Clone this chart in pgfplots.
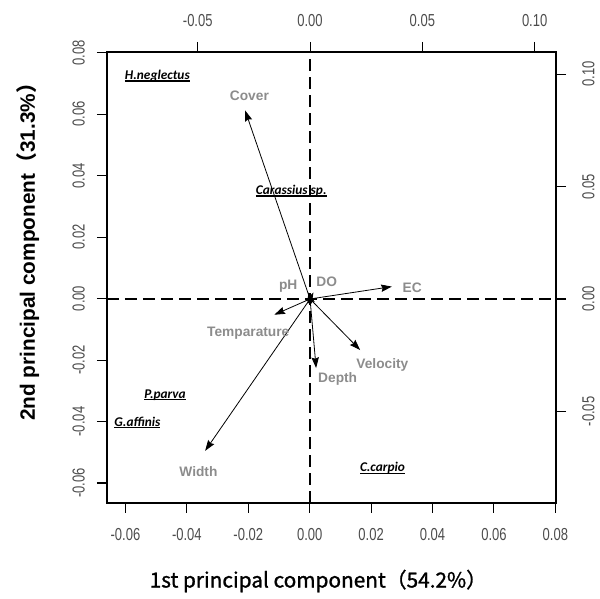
\documentclass[border=0pt]{standalone}
\usepackage{fontspec}
\setmainfont{Liberation Sans}
\newfontfamily\cjk{Noto Sans CJK JP}
\newfontfamily\cjkmed[FakeBold=1.2]{Noto Sans CJK JP}
\newfontfamily\carlito{Carlito}
\usepackage{graphicx}
\usepackage{pgfplots}
\usepackage{pgfplotstable}
\pgfplotsset{compat=1.18}
\usetikzlibrary{arrows.meta}

\definecolor{vargray}{gray}{0.55}
\definecolor{tickgray}{gray}{0.3}
\newcommand\tl[1]{\scalebox{0.75}[1]{#1}}
\newcommand\ul[1]{\setbox0\hbox{#1}\rlap{\rule[-1.6pt]{\wd0}{0.9pt}}\box0}

\pgfplotstableread{
x y label
-0.0496 0.0724 H.neglectus
-0.0060 0.0350 {Carassius sp.}
-0.0471 -0.0314 P.parva
-0.0561 -0.0403 G.affinis
0.0237 -0.0552 C.carpio
}\species

\pgfplotstableread{
name u v lx ly
Cover -0.0289 0.0838 -0.0270 0.0902
EC 0.0364 0.0055 0.0455 0.0049
Temparature -0.0159 -0.0070 -0.0275 -0.0153
Velocity 0.0223 -0.0227 0.0322 -0.0293
Depth 0.0027 -0.0307 0.0123 -0.0356
Width -0.0467 -0.0675 -0.0497 -0.0769
pH -0.0008 0.0029 -0.0097 0.0059
DO 0.0015 0.0029 0.0074 0.0078
}\loadings

\begin{document}
\begin{tikzpicture}
\pgfplotsset{
  common/.style={
    at={(0,0)}, anchor=south west,
    scale only axis, width=336.75pt, height=338.25pt,
    axis line style={line width=1.2pt},
    tick align=outside, major tick length=7.5pt,
    tick style={line width=0.8pt, black},
    scaled x ticks=false, scaled y ticks=false,
    ticklabel style={font=\fontsize{13}{15}\selectfont, text=tickgray, inner sep=0pt},
  }
}
\begin{axis}[common,
  xmin=-0.0660, xmax=0.0802, ymin=-0.0665, ymax=0.0802,
  xtick={-0.06,-0.04,-0.02,0,0.02,0.04,0.06,0.08},
  xticklabels={\tl{-0.06},\tl{-0.04},\tl{-0.02},\tl{0.00},\tl{0.02},\tl{0.04},\tl{0.06},\tl{0.08}},
  ytick={-0.06,-0.04,-0.02,0,0.02,0.04,0.06,0.08},
  yticklabels={\tl{-0.06},\tl{-0.04},\tl{-0.02},\tl{0.00},\tl{0.02},\tl{0.04},\tl{0.06},\tl{0.08}},
  xtick pos=left, ytick pos=left,
  xticklabel pos=left, yticklabel pos=left,
  xticklabel style={anchor=north},
  yticklabel style={rotate=90, anchor=south},
  xticklabel shift=11pt, yticklabel shift=9pt,
]
\addplot[draw=none, nodes near coords={\ul{\pgfplotspointmeta}},
  point meta=explicit symbolic,
  every node near coord/.style={anchor=center, font=\carlito\bfseries\itshape\fontsize{10}{12}\selectfont, text=black}]
  table[x=x, y=y, meta=label] {\species};
\end{axis}
\begin{axis}[common,
  xmin=-0.0904, xmax=0.1095, ymin=-0.0907, ymax=0.1098,
  xtick={-0.05,0,0.05,0.1},
  xticklabels={\tl{-0.05},\tl{0.00},\tl{0.05},\tl{0.10}},
  ytick={-0.05,0,0.05,0.1},
  yticklabels={\tl{-0.05},\tl{0.00},\tl{0.05},\tl{0.10}},
  xtick pos=right, ytick pos=right,
  xticklabel pos=right, yticklabel pos=right,
  xticklabel style={anchor=south},
  yticklabel style={rotate=90, anchor=north},
  xticklabel shift=11pt, yticklabel shift=12pt,
]
\addplot[black, line width=2pt, dash pattern=on 9pt off 4.5pt] coordinates {(0,-0.0907) (0,0.1098)};
\addplot[black, line width=2pt, dash pattern=on 9pt off 4.5pt] coordinates {(-0.0904,0) (0.1095,0)};
\addplot[black, line width=0.6pt, -{Stealth[length=8pt,width=5.5pt,inset=1pt]},
  quiver={u=\thisrow{u}, v=\thisrow{v}}]
  table[x expr=0, y expr=0] {\loadings};
\addplot[draw=none, nodes near coords, point meta=explicit symbolic,
  every node near coord/.style={anchor=center, font=\bfseries\fontsize{10.3}{12}\selectfont, text=vargray}]
  table[x=lx, y=ly, meta=name] {\loadings};
\end{axis}
\node[rotate=90] at (-59.25pt,192pt) {\bfseries\fontsize{15.6}{18}\selectfont 2nd principal component{\cjk\bfseries （}31.3\%{\cjk\bfseries ）}};
\node at (158.5pt,-58.5pt) {\cjkmed\fontsize{15.6}{18}\selectfont 1st principal component（54.2\%）};
\pgfresetboundingbox
\path[use as bounding box] (-80.25pt,-72pt) rectangle (369.75pt,377.25pt);
\end{tikzpicture}
\end{document}
